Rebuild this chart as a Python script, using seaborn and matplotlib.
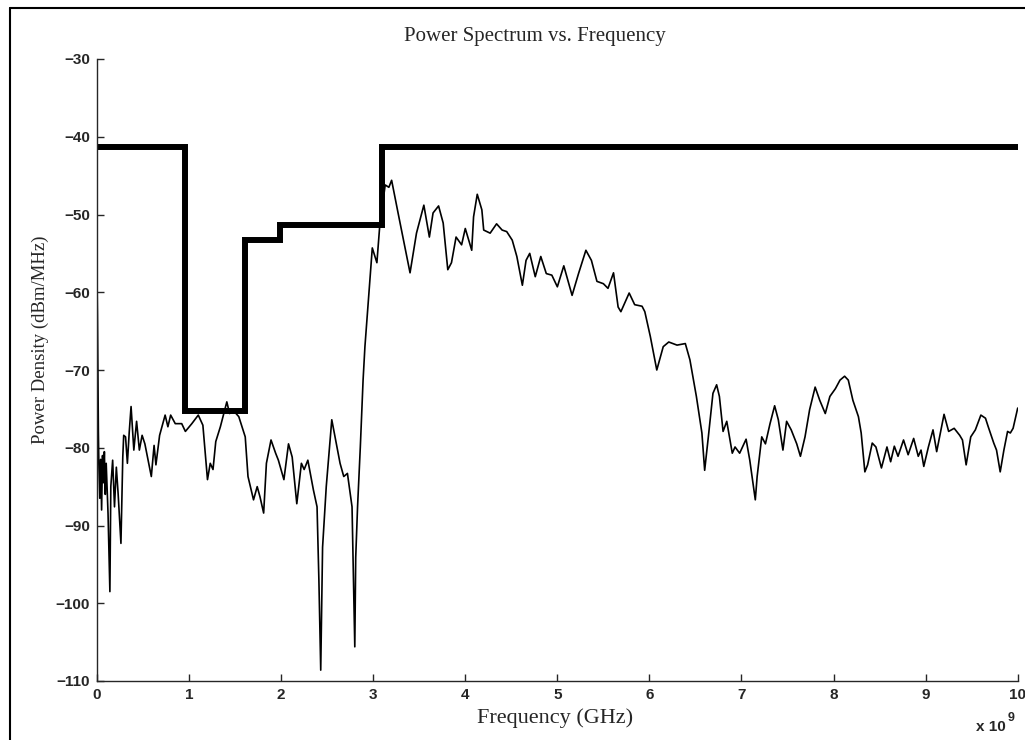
import numpy as np
import matplotlib
matplotlib.use("Agg")
import matplotlib.pyplot as plt
import seaborn as sns

# spectrum (GHz, dBm/MHz)
freq = [0.0, 0.005, 0.01, 0.015, 0.02, 0.03, 0.04, 0.05, 0.06, 0.07, 0.08, 0.09, 0.10, 0.12, 0.14,
        0.15, 0.17, 0.19, 0.21, 0.23, 0.26, 0.28, 0.29, 0.31, 0.33, 0.35, 0.37, 0.40, 0.43, 0.46,
        0.49, 0.52, 0.59, 0.62, 0.64, 0.68, 0.74, 0.77, 0.80, 0.85, 0.92, 0.96, 1.03, 1.10, 1.15,
        1.20, 1.23, 1.26, 1.29, 1.34, 1.41, 1.44, 1.48, 1.54, 1.61, 1.64, 1.70, 1.74, 1.77, 1.81,
        1.84, 1.89, 1.94, 1.97, 2.03, 2.08, 2.12, 2.17, 2.22, 2.25, 2.29, 2.35, 2.39, 2.41, 2.43,
        2.45, 2.49, 2.55, 2.60, 2.64, 2.68, 2.72, 2.77, 2.80, 2.81, 2.83, 2.86, 2.89, 2.91, 2.97,
        2.99, 3.04, 3.07, 3.13, 3.17, 3.20, 3.27, 3.40, 3.47, 3.55, 3.61, 3.65, 3.71, 3.76, 3.81,
        3.85, 3.90, 3.96, 4.00, 4.07, 4.09, 4.13, 4.18, 4.20, 4.27, 4.34, 4.40, 4.45, 4.51, 4.56,
        4.62, 4.66, 4.70, 4.76, 4.82, 4.88, 4.94, 5.00, 5.07, 5.16, 5.23, 5.31, 5.37, 5.43, 5.50,
        5.55, 5.61, 5.66, 5.69, 5.78, 5.84, 5.92, 5.95, 6.01, 6.08, 6.15, 6.21, 6.30, 6.39, 6.44,
        6.51, 6.57, 6.60, 6.64, 6.69, 6.73, 6.76, 6.80, 6.84, 6.90, 6.93, 6.98, 7.05, 7.09, 7.15,
        7.17, 7.22, 7.26, 7.31, 7.36, 7.40, 7.45, 7.49, 7.54, 7.60, 7.64, 7.69, 7.74, 7.80, 7.85,
        7.91, 7.96, 8.02, 8.07, 8.12, 8.16, 8.21, 8.27, 8.30, 8.34, 8.37, 8.42, 8.46, 8.52, 8.58,
        8.62, 8.66, 8.70, 8.76, 8.81, 8.87, 8.92, 8.95, 8.98, 9.03, 9.08, 9.12, 9.16, 9.20, 9.25,
        9.31, 9.37, 9.40, 9.44, 9.49, 9.54, 9.60, 9.65, 9.68, 9.74, 9.77, 9.81, 9.85, 9.89, 9.92,
        9.95, 10.0]
psd = [-58.0, -63.0, -70.0, -78.0, -82.0, -86.5, -81.5, -88.0, -81.0, -84.5, -80.5, -86.0, -82.0, -88.5, -98.5,
       -85.0, -81.6, -87.6, -82.5, -86.0, -92.3, -81.2, -78.4, -78.6, -82.0, -78.0, -74.7, -80.3, -76.6, -80.3,
       -78.4, -79.5, -83.7, -79.7, -82.2, -78.4, -75.8, -77.3, -75.8, -76.9, -76.9, -77.9, -76.9, -75.8, -77.1,
       -84.1, -82.0, -82.8, -79.2, -77.3, -74.1, -75.6, -75.2, -76.0, -78.6, -83.7, -86.7, -85.0, -86.3, -88.4,
       -82.0, -79.0, -80.7, -81.6, -84.1, -79.5, -81.2, -87.2, -82.0, -82.8, -81.6, -85.4, -87.6, -97.0, -108.6,
       -92.8, -85.0, -76.4, -79.5, -82.0, -83.7, -83.3, -87.6, -105.6, -94.1, -87.6, -79.9, -71.3, -67.0, -57.5,
       -54.3, -56.2, -51.6, -46.2, -46.5, -45.6, -49.8, -57.5, -52.4, -48.8, -52.9, -49.8, -48.9, -51.1, -57.1,
       -56.2, -52.9, -53.9, -51.8, -54.6, -50.3, -47.4, -49.4, -52.0, -52.4, -51.2, -52.0, -52.2, -53.3, -55.4,
       -59.1, -55.9, -55.0, -58.0, -55.4, -57.6, -57.8, -59.3, -56.6, -60.4, -57.6, -54.6, -55.9, -58.6, -58.9,
       -59.5, -57.5, -61.9, -62.5, -60.1, -61.6, -61.8, -62.5, -65.7, -70.0, -67.0, -66.4, -66.8, -66.6, -68.7,
       -73.4, -78.1, -82.9, -78.6, -73.0, -71.9, -73.4, -77.9, -76.6, -80.7, -79.9, -80.7, -78.9, -81.6, -86.7,
       -83.7, -78.6, -79.5, -76.9, -74.6, -76.4, -80.3, -76.6, -77.7, -79.5, -81.1, -78.6, -75.1, -72.2, -73.9,
       -75.6, -73.4, -72.4, -71.3, -70.8, -71.3, -73.9, -76.0, -78.1, -83.1, -82.2, -79.4, -79.9, -82.6, -79.9,
       -81.8, -79.8, -81.1, -79.0, -80.9, -78.8, -81.1, -80.3, -82.4, -79.9, -77.7, -80.5, -78.1, -75.7, -77.9,
       -77.5, -78.4, -79.0, -82.2, -78.6, -77.7, -75.8, -76.2, -77.3, -79.4, -80.3, -83.1, -80.3, -77.9, -78.1,
       -77.5, -74.9]

# emission mask breakpoints (GHz, dBm/MHz)
mask_f = [0.0, 0.96, 1.61, 1.99, 3.1, 10.0]
mask_db = [-41.3, -75.3, -53.3, -51.3, -41.3, -41.3]

sns.set_style("ticks")
plt.rcParams['font.family'] = ['Liberation Sans', 'DejaVu Sans']
plt.rcParams['xtick.direction'] = 'in'
plt.rcParams['ytick.direction'] = 'in'

W, H = 1025, 740
fig = plt.figure(figsize=(W / 100, H / 100), dpi=100)
ax = fig.add_axes([97 / W, 1 - 681 / H, (1017.7 - 97) / W, (681 - 59) / H])

sns.lineplot(x=freq, y=psd, ax=ax, color='black', lw=1.2, estimator=None, sort=False)
sns.lineplot(x=mask_f, y=mask_db, ax=ax, color='black', lw=4.3, estimator=None,
             drawstyle='steps-post', solid_joinstyle='miter')

ax.set_xlim(0, 10)
ax.set_ylim(-110, -30)
ax.set_xticks(range(0, 11))
ax.set_yticks(range(-110, -29, 10))
ax.tick_params(labelsize=11, length=5, width=1, pad=5)
for lab in ax.get_xticklabels() + ax.get_yticklabels():
    lab.set_fontweight('bold')
sns.despine(ax=ax)
for s in ['left', 'bottom']:
    ax.spines[s].set_linewidth(1.0)

serif = ['Liberation Serif', 'DejaVu Serif']
fig.text(535 / W, 1 - 37 / H, 'Power Spectrum vs. Frequency', family=serif, fontsize=15,
         ha='center', va='center')
fig.text(555 / W, 1 - 718 / H, 'Frequency (GHz)', family=serif, fontsize=16,
         ha='center', va='center')
fig.text(40 / W, 1 - 340 / H, 'Power Density (dBm/MHz)', family=serif, fontsize=13.5,
         ha='center', va='center', rotation=90)
fig.text(1006 / W, 1 - 727 / H, 'x 10', fontsize=11, fontweight='bold', ha='right', va='center')
fig.text(1008 / W, 1 - 718 / H, '9', fontsize=9, fontweight='bold', ha='left', va='center')

# frame around the figure
fig.add_artist(plt.Line2D([9.5 / W, 1], [1 - 8 / H, 1 - 8 / H], transform=fig.transFigure,
                          color='black', lw=1.5))
fig.add_artist(plt.Line2D([9.5 / W, 9.5 / W], [0, 1 - 8 / H], transform=fig.transFigure,
                          color='black', lw=1.5))

fig.savefig('out.png', dpi=100)
